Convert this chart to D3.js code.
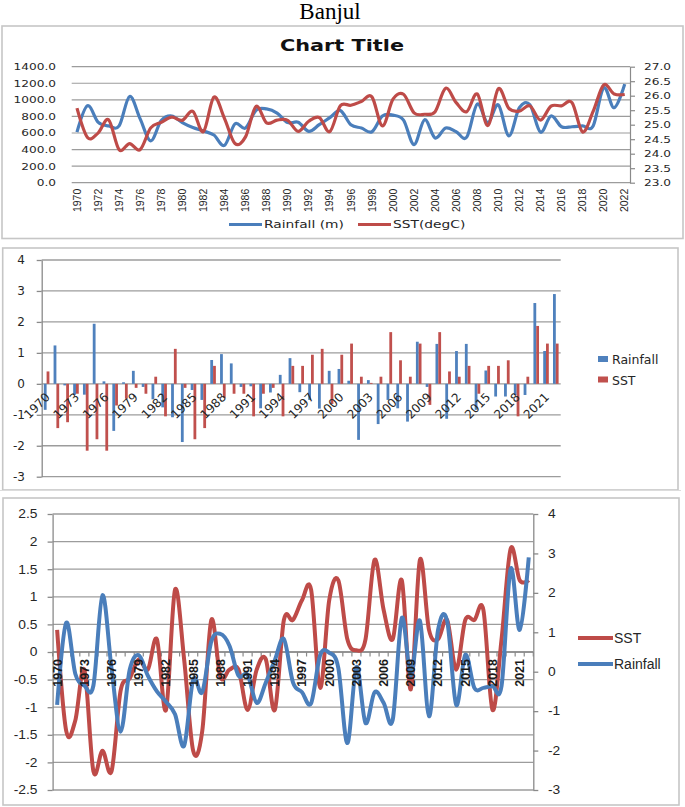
<!DOCTYPE html>
<html><head><meta charset="utf-8">
<script src="https://cdnjs.cloudflare.com/ajax/libs/d3/7.8.5/d3.min.js"></script>
<style>body{margin:0;background:#fff}svg{display:block}</style>
</head><body>
<svg id="c" width="685" height="807"></svg>
<script>
// ---------------- DATA ----------------
const years = [1970,1971,1972,1973,1974,1975,1976,1977,1978,1979,1980,1981,1982,1983,1984,1985,1986,1987,1988,1989,
  1990,1991,1992,1993,1994,1995,1996,1997,1998,1999,2000,2001,2002,2003,2004,2005,2006,2007,2008,2009,
  2010,2011,2012,2013,2014,2015,2016,2017,2018,2019,2020,2021,2022];
const rainfall = [610,930,730,685,685,1040,770,505,750,805,725,665,625,575,450,710,660,875,890,840,
  725,730,620,700,785,870,700,660,615,805,815,755,460,760,540,660,615,550,950,725,
  940,565,905,940,610,805,675,675,685,685,1145,905,1190];
const sst = [25.57,24.56,24.71,25.17,24.14,24.35,24.14,24.89,25.08,25.26,25.15,25.46,24.76,25.95,25.22,24.35,24.58,25.63,25.06,25.16,
  25.15,24.77,25.12,25.25,24.76,25.65,25.67,25.80,25.96,24.96,25.88,26.05,25.41,25.36,25.45,26.26,25.76,25.45,26.06,24.97,
  26.24,25.56,25.47,25.65,25.16,25.64,25.65,25.76,24.75,25.46,26.37,26.06,26.04];
const rainAnom = [-0.84,1.24,-0.05,-0.35,-0.35,1.94,0.08,-1.52,0.05,0.42,-0.10,-0.50,-0.76,-1.08,-1.88,-0.20,-0.52,0.77,0.96,0.66,
  -0.10,-0.08,-0.79,-0.28,0.29,0.83,-0.27,-0.52,-0.80,0.42,0.48,0.10,-1.81,0.12,-1.30,-0.52,-0.79,-1.22,1.36,-0.10,
  1.29,-1.13,1.06,1.29,-0.84,0.43,-0.41,-0.41,-0.36,-0.36,2.61,1.06,2.90];
const sstAnom = [0.40,-1.43,-1.24,-0.32,-2.16,-1.79,-2.16,-0.70,-0.48,-0.13,-0.32,0.23,-1.05,1.13,-0.13,-1.79,-1.43,0.58,-0.45,-0.32,
  -0.32,-1.05,-0.32,-0.13,-1.05,0.58,0.58,0.94,1.13,-0.65,0.94,1.30,0.23,0.03,0.23,1.67,0.76,0.23,1.30,-0.68,
  1.67,0.40,0.23,0.58,-0.32,0.58,0.58,0.76,-1.05,0.23,1.87,1.30,1.30];
const p1LeftTicks = [0,200,400,600,800,1000,1200,1400];
const p1RightTicks = [23,23.5,24,24.5,25,25.5,26,26.5,27];
const p1Labels = [1970,1972,1974,1976,1978,1980,1982,1984,1986,1988,1990,1992,1994,1996,1998,2000,2002,2004,2006,2008,2010,2012,2014,2016,2018,2020,2022];
const p2Ticks = [-3,-2,-1,0,1,2,3,4];
const p2Labels = [1970,1973,1976,1979,1982,1985,1988,1991,1994,1997,2000,2003,2006,2009,2012,2015,2018,2021];
const p3LeftTicks = [-2.5,-2,-1.5,-1,-0.5,0,0.5,1,1.5,2,2.5];
const p3RightTicks = [-3,-2,-1,0,1,2,3,4];
const p3Labels = p2Labels;
const seriesNames1 = ["Rainfall (m)","SST(degC)"];
const seriesNames2 = ["Rainfall","SST"];
const seriesNames3 = ["SST","Rainfall"];

// ---------------- STYLE ----------------
const GRID="#9c9c9c", AX="#8a8a8a", BLUE="#4a7ebb", RED="#be4b48", BOX="#c6c6c6", TXT="#262626";
const svg = d3.select("#c");

function stretch(sel, sx){
  sel.each(function(){
    const t=d3.select(this);
    const x=+t.attr("x")||0, y=+t.attr("y")||0;
    t.attr("x",0).attr("y",0).attr("transform",`translate(${x},${y}) scale(${sx},1)`);
  });
}
function box(x0,y0,x1,y1){
  svg.append("rect").attr("x",x0).attr("y",y0).attr("width",x1-x0).attr("height",y1-y0)
    .attr("fill","none").attr("stroke",BOX).attr("stroke-width",1.6);
}

// Title
svg.append("text").attr("x",330).attr("y",19).attr("text-anchor","middle")
  .attr("font-family","Liberation Serif").attr("font-size",23).attr("fill","#000").text("Banjul");

// ================= PANEL 1 =================
box(2,26,683,238.5);
const p1={l:71.7,r:630,t:66.7,b:182.7};
const x1=d3.scaleBand().domain(years).range([p1.l,p1.r]);
const yL1=d3.scaleLinear().domain([0,1400]).range([p1.b,p1.t]);
const yR1=d3.scaleLinear().domain([23,27]).range([p1.b,p1.t]);
svg.append("text").attr("x",342).attr("y",51).attr("text-anchor","middle")
  .attr("font-family","DejaVu Sans").attr("font-weight","bold").attr("font-size",16)
  .attr("transform","translate(342,0) scale(1.3,1) translate(-342,0)").attr("fill","#111").text("Chart Title");
svg.append("g").selectAll("line").data(p1LeftTicks).join("line")
  .attr("x1",p1.l).attr("x2",p1.r).attr("y1",d=>yL1(d)).attr("y2",d=>yL1(d))
  .attr("stroke",GRID).attr("stroke-width",1.2);
const gl1=svg.append("g").attr("transform",`translate(${p1.l},0)`)
  .call(d3.axisLeft(yL1).tickValues(p1LeftTicks).tickSize(0).tickPadding(15.7).tickFormat(d3.format(".1f")));
gl1.select(".domain").remove();
gl1.selectAll("text").attr("font-family","DejaVu Sans").attr("font-size",9).attr("fill",TXT).call(stretch,1.35);
const gr1=svg.append("g").attr("transform",`translate(${p1.r},0)`)
  .call(d3.axisRight(yR1).tickValues(p1RightTicks).tickSize(5).tickSizeOuter(0).tickPadding(9).tickFormat(d3.format(".1f")));
gr1.selectAll("line,path").attr("stroke",AX).attr("stroke-width",1.2);
gr1.selectAll("text").attr("font-family","DejaVu Sans").attr("font-size",9).attr("fill",TXT).call(stretch,1.35);
const gx1=svg.append("g").attr("transform",`translate(0,${p1.b})`)
  .call(d3.axisBottom(x1).tickValues(p1Labels).tickSize(0).tickFormat(d=>String(d)));
gx1.select(".domain").remove();
gx1.selectAll("text").attr("transform","rotate(-90)").attr("x",-6).attr("y",0).attr("dy","0.35em")
  .attr("text-anchor","end").attr("font-family","Liberation Sans").attr("font-size",10.5).attr("fill",TXT);
const cx1=(d,i)=>x1(years[i])+x1.bandwidth()/2;
const crv=d3.curveCardinal.tension(0);
svg.append("path").datum(rainfall).attr("fill","none").attr("stroke",BLUE).attr("stroke-width",3.2)
  .attr("d",d3.line().x(cx1).y(d=>yL1(d)).curve(crv));
svg.append("path").datum(sst).attr("fill","none").attr("stroke",RED).attr("stroke-width",3.2)
  .attr("d",d3.line().x(cx1).y(d=>yR1(d)).curve(crv));
// legend 1
[[229,262,264,BLUE,seriesNames1[0]],[358,391,393,RED,seriesNames1[1]]].forEach(([a,b,t,c,s])=>{
  svg.append("line").attr("x1",a).attr("x2",b).attr("y1",224.5).attr("y2",224.5).attr("stroke",c).attr("stroke-width",3);
  svg.append("text").attr("x",t).attr("y",228).attr("font-family","DejaVu Sans").attr("font-size",10).attr("fill",TXT)
    .text(s).call(stretch,1.38);
});

// ================= PANEL 2 =================
box(2.7,248,678,490);
const p2={l:41.7,r:560.7,t:260,b:476.7};
const x2=d3.scaleBand().domain(years).range([p2.l,p2.r]);
const xs2=d3.scaleBand().domain(seriesNames2).range([0,x2.bandwidth()]).paddingInner(0).paddingOuter(0.75);
const y2=d3.scaleLinear().domain([-3,4]).range([p2.b,p2.t]);
svg.append("g").selectAll("line").data(p2Ticks).join("line")
  .attr("x1",p2.l).attr("x2",p2.r).attr("y1",d=>y2(d)).attr("y2",d=>y2(d))
  .attr("stroke",GRID).attr("stroke-width",1.3);
const gl2=svg.append("g").attr("transform",`translate(${p2.l},0)`)
  .call(d3.axisLeft(y2).tickValues(p2Ticks).tickSize(5).tickSizeOuter(0).tickPadding(11.7).tickFormat(d=>String(d)));
gl2.selectAll("line,path").attr("stroke",AX).attr("stroke-width",1.3);
gl2.selectAll("text").attr("font-family","DejaVu Sans").attr("font-size",12).attr("fill",TXT);
const bars=[[rainAnom,seriesNames2[0],"#4f81bd"],[sstAnom,seriesNames2[1],"#c0504d"]];
bars.forEach(([vals,name,col])=>{
  svg.append("g").selectAll("rect").data(vals).join("rect")
    .attr("x",(d,i)=>x2(years[i])+xs2(name)).attr("width",xs2.bandwidth())
    .attr("y",d=>y2(Math.max(0,d))).attr("height",d=>Math.abs(y2(d)-y2(0)))
    .attr("fill",col);
});
const gx2=svg.append("g").attr("transform",`translate(0,${y2(0)})`)
  .call(d3.axisBottom(x2).tickValues(p2Labels).tickSize(0).tickFormat(d=>String(d)));
gx2.select(".domain").remove();
gx2.selectAll("text").attr("x",0).attr("y",0).attr("dy",0).attr("transform","translate(4,14) rotate(-45)")
  .attr("text-anchor","end").attr("font-family","DejaVu Sans").attr("font-size",12).attr("fill",TXT);
[[356,seriesNames2[0],"#4f81bd"],[376.5,seriesNames2[1],"#c0504d"]].forEach(([yy,s,c])=>{
  svg.append("rect").attr("x",598).attr("y",yy).attr("width",10).attr("height",6).attr("fill",c);
  svg.append("text").attr("x",612).attr("y",yy+8).attr("font-family","DejaVu Sans").attr("font-size",12.5)
    .attr("fill",TXT).text(s);
});

// ================= PANEL 3 =================
svg.append("line").attr("x1",0).attr("x2",681).attr("y1",490.5).attr("y2",490.5).attr("stroke","#dcdcdc");
box(3,498,679,805);
const p3={l:52.6,r:533.3,t:514,b:790};
const x3=d3.scaleBand().domain(years).range([p3.l,p3.r]);
const yL3=d3.scaleLinear().domain([-2.5,2.5]).range([p3.b,p3.t]);
const yR3=d3.scaleLinear().domain([-3,4]).range([p3.b,p3.t]);
svg.append("g").selectAll("line").data(p3LeftTicks).join("line")
  .attr("x1",p3.l).attr("x2",p3.r).attr("y1",d=>yL3(d)).attr("y2",d=>yL3(d))
  .attr("stroke",GRID).attr("stroke-width",1.3);
const gl3=svg.append("g").attr("transform",`translate(${p3.l},0)`)
  .call(d3.axisLeft(yL3).tickValues(p3LeftTicks).tickSize(5).tickSizeOuter(0).tickPadding(10.1).tickFormat(d=>String(d)));
gl3.selectAll("line,path").attr("stroke",AX).attr("stroke-width",1.3);
gl3.selectAll("text").attr("font-family","Liberation Sans").attr("font-size",12).attr("fill",TXT).call(stretch,1.15);
const gr3=svg.append("g").attr("transform",`translate(${p3.r},0)`)
  .call(d3.axisRight(yR3).tickValues(p3RightTicks).tickSize(5).tickSizeOuter(0).tickPadding(9.7).tickFormat(d=>String(d)));
gr3.selectAll("line,path").attr("stroke",AX).attr("stroke-width",1.3);
gr3.selectAll("text").attr("font-family","Liberation Sans").attr("font-size",12).attr("fill",TXT).call(stretch,1.15);
// x axis at 0
const y03=yL3(0);
svg.append("line").attr("x1",p3.l).attr("x2",p3.r).attr("y1",y03).attr("y2",y03).attr("stroke",AX).attr("stroke-width",1.3);
svg.append("g").selectAll("line").data(years.concat(["end"])).join("line")
  .attr("x1",d=>d==="end"?p3.r:x3(d)).attr("x2",d=>d==="end"?p3.r:x3(d))
  .attr("y1",y03).attr("y2",y03+4.5).attr("stroke",AX).attr("stroke-width",1.2);
const cx3=(d,i)=>x3(years[i])+x3.bandwidth()/2;
svg.append("path").datum(sstAnom).attr("fill","none").attr("stroke",RED).attr("stroke-width",4)
  .attr("d",d3.line().x(cx3).y(d=>yL3(d)).curve(crv));
svg.append("path").datum(rainAnom).attr("fill","none").attr("stroke",BLUE).attr("stroke-width",4)
  .attr("d",d3.line().x(cx3).y(d=>yR3(d)).curve(crv));
const gx3=svg.append("g").attr("transform",`translate(0,${y03})`)
  .call(d3.axisBottom(x3).tickValues(p3Labels).tickSize(0).tickFormat(d=>String(d)));
gx3.select(".domain").remove();
gx3.selectAll("text").attr("transform","rotate(-90)").attr("x",-7).attr("y",0).attr("dy","0.35em")
  .attr("text-anchor","end").attr("font-family","Liberation Sans").attr("font-weight","bold")
  .attr("font-size",12.5).attr("fill","#1a1a1a");
[[638,RED,seriesNames3[0]],[664,BLUE,seriesNames3[1]]].forEach(([yy,c,s])=>{
  svg.append("line").attr("x1",578).attr("x2",613).attr("y1",yy).attr("y2",yy).attr("stroke",c).attr("stroke-width",4);
  svg.append("text").attr("x",614).attr("y",yy+5).attr("font-family","Liberation Sans").attr("font-size",14)
    .attr("fill",TXT).text(s);
});
</script>
</body></html>
